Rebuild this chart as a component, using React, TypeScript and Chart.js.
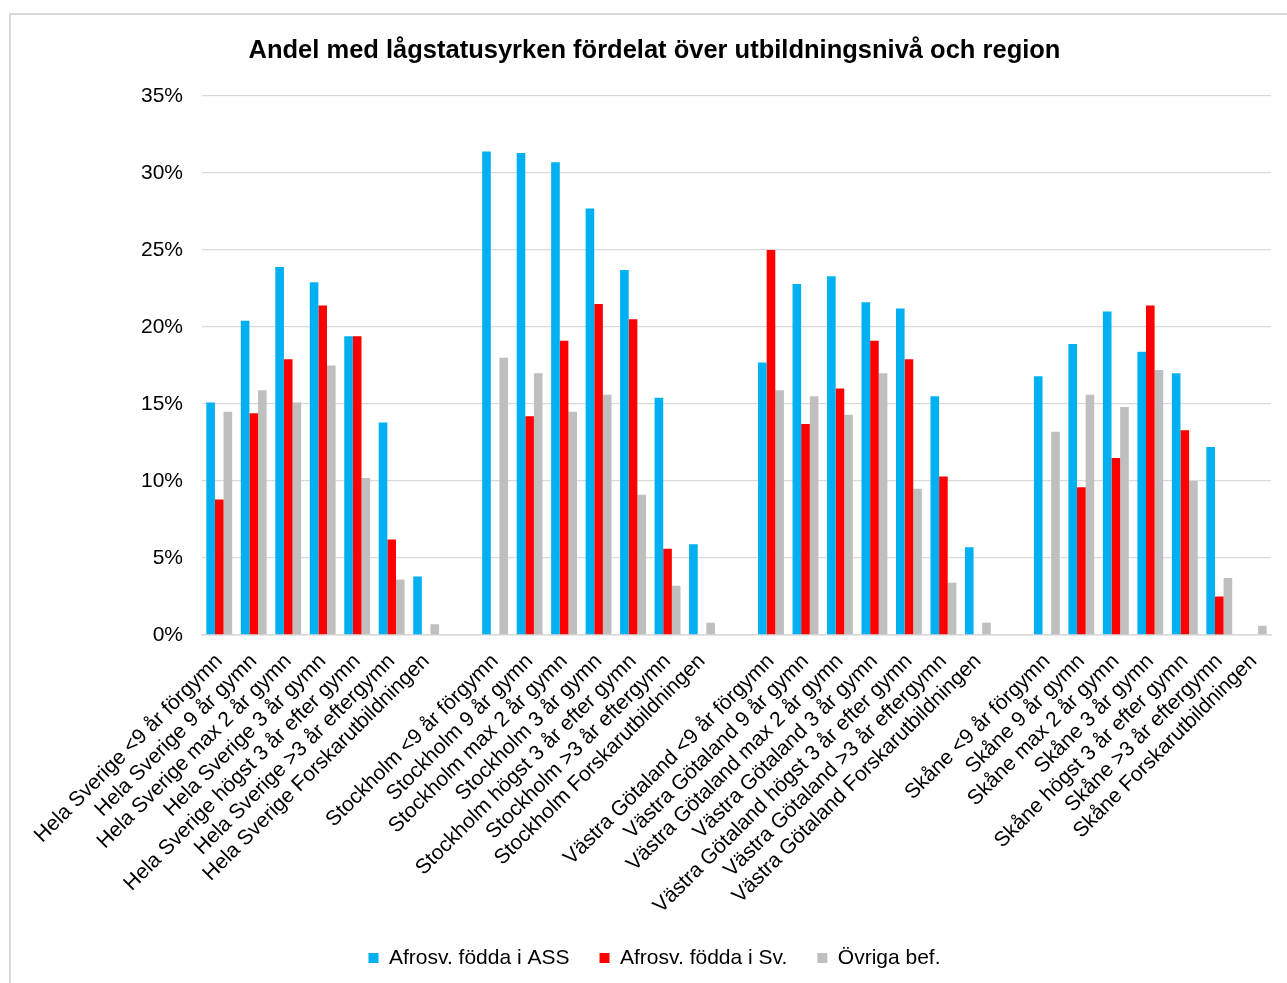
import React, { useEffect, useRef } from "react";
import { Chart, registerables } from "chart.js";

Chart.register(...registerables);

const categories: string[] = [
  "Hela Sverige <9 år förgymn",
  "Hela Sverige 9 år gymn",
  "Hela Sverige max 2 år gymn",
  "Hela Sverige 3 år gymn",
  "Hela Sverige högst 3 år efter gymn",
  "Hela Sverige >3 år eftergymn",
  "Hela Sverige Forskarutbildningen",
  "",
  "Stockholm <9 år förgymn",
  "Stockholm 9 år gymn",
  "Stockholm max 2 år gymn",
  "Stockholm 3 år gymn",
  "Stockholm högst 3 år efter gymn",
  "Stockholm >3 år eftergymn",
  "Stockholm Forskarutbildningen",
  "",
  "Västra Götaland <9 år förgymn",
  "Västra Götaland 9 år gymn",
  "Västra Götaland max 2 år gymn",
  "Västra Götaland 3 år gymn",
  "Västra Götaland högst 3 år efter gymn",
  "Västra Götaland >3 år eftergymn",
  "Västra Götaland Forskarutbildningen",
  "",
  "Skåne <9 år förgymn",
  "Skåne 9 år gymn",
  "Skåne max 2 år gymn",
  "Skåne 3 år gymn",
  "Skåne högst 3 år efter gymn",
  "Skåne >3 år eftergymn",
  "Skåne Forskarutbildningen",
];

const seriesNames: string[] = ["Afrosv. födda i ASS", "Afrosv. födda i Sv.", "Övriga bef."];

const afrosvASS: (number | null)[] = [
  15.1, 20.4, 23.9, 22.9, 19.4, 13.8, 3.8, null,
  31.4, 31.3, 30.7, 27.7, 23.7, 15.4, 5.9, null,
  17.7, 22.8, 23.3, 21.6, 21.2, 15.5, 5.7, null,
  16.8, 18.9, 21.0, 18.4, 17.0, 12.2, null,
];

const afrosvSv: (number | null)[] = [
  8.8, 14.4, 17.9, 21.4, 19.4, 6.2, null, null,
  null, 14.2, 19.1, 21.5, 20.5, 5.6, null, null,
  25.0, 13.7, 16.0, 19.1, 17.9, 10.3, null, null,
  null, 9.6, 11.5, 21.4, 13.3, 2.5, null,
];

const ovrigaBef: (number | null)[] = [
  14.5, 15.9, 15.1, 17.5, 10.2, 3.6, 0.7, null,
  18.0, 17.0, 14.5, 15.6, 9.1, 3.2, 0.8, null,
  15.9, 15.5, 14.3, 17.0, 9.5, 3.4, 0.8, null,
  13.2, 15.6, 14.8, 17.2, 10.0, 3.7, 0.6,
];

const yTicks: number[] = [0, 5, 10, 15, 20, 25, 30, 35];

const colors = ["#00B0F0", "#FF0000", "#BFBFBF"];

export default function App() {
  const ref = useRef<HTMLCanvasElement | null>(null);

  useEffect(() => {
    if (!ref.current) return;
    const font = "'Liberation Sans', Arial, sans-serif";
    const chart = new Chart(ref.current, {
      type: "bar",
      data: {
        labels: categories,
        datasets: [afrosvASS, afrosvSv, ovrigaBef].map((d, i) => ({
          label: seriesNames[i],
          data: d,
          backgroundColor: colors[i],
          borderWidth: 0,
          categoryPercentage: 0.75,
          barPercentage: 1,
        })),
      },
      options: {
        animation: false,
        responsive: false,
        maintainAspectRatio: false,
        devicePixelRatio: 1,
        layout: { padding: { left: 38, right: 16, top: 36, bottom: 4.5 } },
        plugins: {
          title: {
            display: true,
            text: "Andel med lågstatusyrken fördelat över utbildningsnivå och region",
            color: "#000",
            font: { family: font, size: 25.5, weight: "bold" },
            padding: { top: 0, bottom: 29.4 },
          },
          legend: {
            position: "bottom",
            labels: {
              color: "#000",
              font: { family: font, size: 21 },
              boxWidth: 10,
              boxHeight: 10,
              padding: 30,
            },
          },
          tooltip: { enabled: false },
        },
        scales: {
          x: {
            grid: { display: false, drawTicks: false },
            border: { display: true, color: "#D9D9D9", width: 1.5 },
            ticks: {
              autoSkip: false,
              maxRotation: 45,
              minRotation: 45,
              color: "#000",
              font: { family: font, size: 21 },
              padding: 14,
            },
            afterFit: (s: any) => {
              s.height = 282.5;
            },
          },
          y: {
            min: 0,
            max: 35,
            afterBuildTicks: (s: any) => {
              s.ticks = yTicks.map((v) => ({ value: v }));
            },
            grid: { color: "#D9D9D9", lineWidth: 1.3, drawTicks: false },
            border: { display: false },
            ticks: {
              color: "#000",
              font: { family: font, size: 21 },
              padding: 19,
              callback: (v: any) => `${v}%`,
            },
            afterFit: (s: any) => {
              s.width = 164;
            },
          },
        },
      },
    });
    return () => chart.destroy();
  }, []);

  return (
    <div style={{ position: "absolute", left: 0, top: 0, width: 1287, height: 983, overflow: "hidden", background: "#fff" }}>
      <div
        style={{
          position: "absolute",
          left: 9,
          top: 13,
          width: 1400,
          height: 1100,
          borderLeft: "2px solid #D9D9D9",
          borderTop: "2px solid #D9D9D9",
        }}
      />
      <canvas ref={ref} width={1287} height={983} style={{ position: "absolute", left: 0, top: 0 }} />
    </div>
  );
}
